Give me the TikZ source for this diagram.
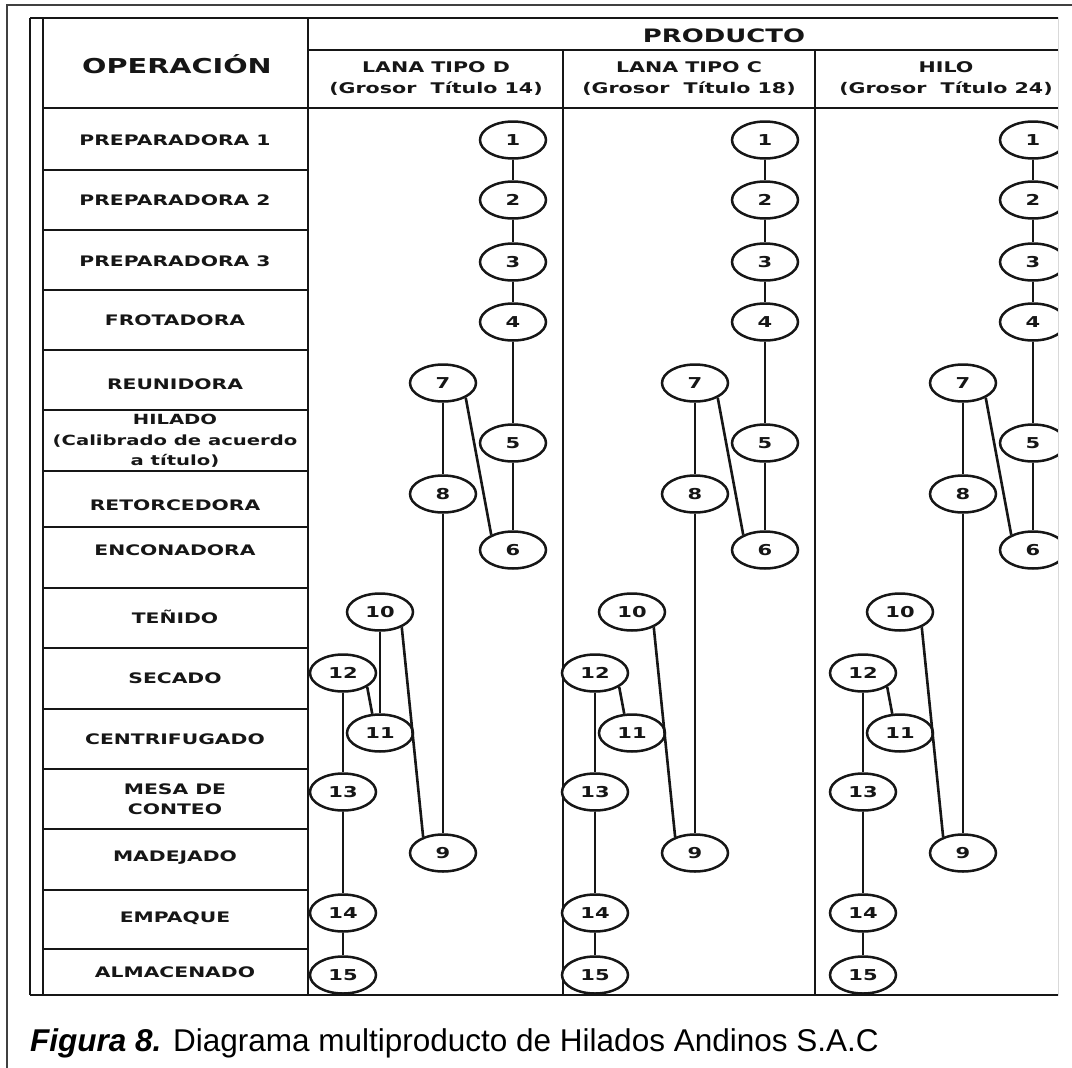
\documentclass[tikz,border=0pt]{standalone}
\usepackage{fontspec}
\usetikzlibrary{shapes.geometric}
\newfontfamily\tb[FakeStretch=1.4]{DejaVu Sans Bold}
\newfontfamily\capfont{Liberation Sans}
\definecolor{ink}{HTML}{161616}
\begin{document}
\begin{tikzpicture}[x=1pt,y=-1pt,
  rule/.style={line width=2.9pt,draw=ink},
  thin rule/.style={line width=2.4pt,draw=ink},
  oplabel/.style={text=ink,font=\tb\fontsize{14.5}{20.5}\selectfont,align=center,inner sep=0pt},
  hdr/.style={text=ink,font=\tb\fontsize{14.7}{21}\selectfont,align=center,inner sep=0pt},
  stepnode/.style={ellipse,draw=ink,line width=2.5pt,minimum width=66pt,minimum height=37pt,inner sep=0pt,fill=white,
    text=ink,font=\tb\fontsize{15}{16}\selectfont},
  flow/.style={line width=2.6pt,draw=ink}]
\useasboundingbox (0,0) rectangle (1072,1068);

% page frame
\draw[line width=1.3pt,draw=black!75] (7,1070) -- (7,5) -- (1072,5);

% operation column
\draw[rule] (30,18) -- (30,995);
\draw[rule] (43,18) -- (43,995);
\foreach \yy in {108,170,230,290,350,410,471,527,588,648,709,769,829,890,949}
  \draw[thin rule] (43,\yy) -- (308,\yy);

\node[oplabel,font=\tb\fontsize{20.5}{22}\selectfont] (opHead) at (177,64) {OPERACIÓN};
\node[oplabel] (op1)  at (175,140) {PREPARADORA 1};
\node[oplabel] (op2)  at (175,200) {PREPARADORA 2};
\node[oplabel] (op3)  at (175,261) {PREPARADORA 3};
\node[oplabel] (op4)  at (175,320) {FROTADORA};
\node[oplabel] (op5)  at (175,384) {REUNIDORA};
\node[oplabel,font=\tb\fontsize{14}{20.5}\selectfont] (op6) at (175,441) {HILADO\\(Calibrado de acuerdo\\a título)};
\node[oplabel] (op7)  at (175,505) {RETORCEDORA};
\node[oplabel] (op8)  at (175,550) {ENCONADORA};
\node[oplabel] (op9)  at (175,617) {TEÑIDO};
\node[oplabel] (op10) at (175,678) {SECADO};
\node[oplabel] (op11) at (175,739) {CENTRIFUGADO};
\node[oplabel] (op12) at (175,799) {MESA DE\\CONTEO};
\node[oplabel] (op13) at (175,858) {MADEJADO};
\node[oplabel] (op14) at (175,918) {EMPAQUE};
\node[oplabel] (op15) at (175,972) {ALMACENADO};

% product columns, cut at the right edge
\begin{scope}
\clip (0,0) rectangle (1058,1068);
\draw[rule] (30,18) -- (1100,18);
\draw[rule] (30,995) -- (1100,995);
\draw[rule] (308,18) -- (308,995);
\draw[thin rule] (308,50) -- (1100,50);
\draw[thin rule] (308,108) -- (1100,108);
\draw[rule] (563,50) -- (563,995);
\draw[rule] (815,50) -- (815,995);

\node[hdr,font=\tb\fontsize{18.5}{20}\selectfont] (prod) at (724,36) {PRODUCTO};
\node[hdr] (hD) at (436,79) {LANA TIPO D\\(Grosor\ \ Título 14)};
\node[hdr] (hC) at (689,79) {LANA TIPO C\\(Grosor\ \ Título 18)};
\node[hdr] (hH) at (946,79) {HILO\\(Grosor\ \ Título 24)};

\foreach \p/\dx in {d/0,c/252,h/520}{
  \begin{scope}[xshift=\dx]
  \node[stepnode] (\p1)  at (513,140) {1};
  \node[stepnode] (\p2)  at (513,200) {2};
  \node[stepnode] (\p3)  at (513,262) {3};
  \node[stepnode] (\p4)  at (513,322) {4};
  \node[stepnode] (\p5)  at (513,443) {5};
  \node[stepnode] (\p6)  at (513,550) {6};
  \node[stepnode] (\p7)  at (443,383) {7};
  \node[stepnode] (\p8)  at (443,494) {8};
  \node[stepnode] (\p9)  at (443,853) {9};
  \node[stepnode] (\p10) at (380,612) {10};
  \node[stepnode] (\p11) at (380,733) {11};
  \node[stepnode] (\p12) at (343,673) {12};
  \node[stepnode] (\p13) at (343,792) {13};
  \node[stepnode] (\p14) at (343,913) {14};
  \node[stepnode] (\p15) at (343,975) {15};
  \end{scope}
  \draw[flow] (\p1) -- (\p2);
  \draw[flow] (\p2) -- (\p3);
  \draw[flow] (\p3) -- (\p4);
  \draw[flow] (\p4) -- (\p5);
  \draw[flow] (\p5) -- (\p6);
  \draw[flow] (\p7.-33) -- (\p6.145);
  \draw[flow] (\p7) -- (\p8);
  \draw[flow] (\p8) -- (\p9);
  \draw[flow] (\p10.-35) -- (\p9.141);
  \draw[flow] (\p12.-30) -- (\p11.112);
  \draw[flow] (\p12) -- (\p13);
  \draw[flow] (\p13) -- (\p14);
  \draw[flow] (\p14) -- (\p15);
}
\draw[flow] (d10) -- (d11);
\end{scope}
\draw[line width=0.8pt,draw=black!15] (1058,18) -- (1058,995);

% caption
\node[anchor=base west,inner sep=0pt,font=\capfont\fontsize{31.5}{34}\selectfont] (caption) at (30,1051)
  {\bfseries\itshape Figura 8.\mdseries\upshape{} Diagrama multiproducto de Hilados Andinos S.A.C};
\end{tikzpicture}
\end{document}
